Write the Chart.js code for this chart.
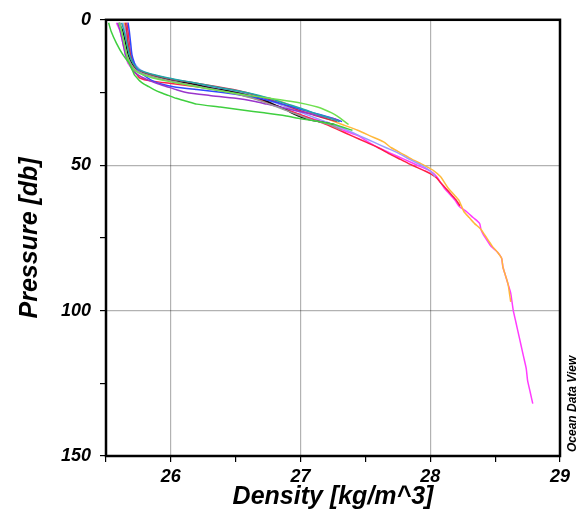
<!DOCTYPE html>
<html>
<head>
<meta charset="utf-8">
<script src="https://cdn.jsdelivr.net/npm/chart.js@4.4.1/dist/chart.umd.min.js"></script>
<style>
  html, body { margin: 0; padding: 0; background: #fff; }
  #wrap { width: 580px; height: 520px; }
</style>
</head>
<body>
<div id="wrap"><canvas id="profileChart"></canvas></div>
<script>
// ==============================
// Data: pressure levels [db] and density profiles [kg/m^3]
// ==============================

const pressure = [1, 4, 8, 12, 15, 17, 18, 19, 20, 21, 22, 23, 24, 25, 26, 27, 28, 29, 30, 31,
    32, 33, 34, 35, 36, 38, 40, 42, 44, 46, 48, 50, 52, 54, 56, 58, 60, 62, 64, 66,
    68, 70, 72, 74, 76, 78, 80, 82, 85, 88, 91, 94, 97, 100, 104, 108, 112, 116, 120, 124, 128, 132];

const blackProfile = [25.60, 25.63, 25.65, 25.67, 25.70, 25.74, 25.78, 25.84, 25.93, 26.03, 26.16, 26.26,
    26.38, 26.50, 26.60, 26.68, 26.74, 26.79, 26.84, 26.89, 26.93, 26.98, 27.04, 27.14, 27.26];

const redProfile = [25.66, 25.67, 25.68, 25.69, 25.70, 25.71, 25.72, 25.74, 25.76, 25.84, 26.02, 26.20,
    26.34, 26.46, 26.56, 26.64, 26.72, 26.78, 26.84, 26.90, 26.96, 27.02, 27.08, 27.14, 27.20, 27.30,
    27.40, 27.50, 27.60, 27.68, 27.77, 27.86, 27.96, 28.04, 28.08, 28.12, 28.16, 28.20, 28.23];

const magentaProfile = [25.58, 25.61, 25.63, 25.65, 25.67, 25.71, 25.75, 25.84, 25.96, 26.08, 26.20, 26.30,
    26.40, 26.50, 26.58, 26.66, 26.72, 26.78, 26.84, 26.90, 26.96, 27.02, 27.09, 27.18, 27.24, 27.33,
    27.45, 27.52, 27.60, 27.70, 27.80, 27.90, 28.00, 28.05, 28.08, 28.11, 28.15, 28.19, 28.22, 28.28,
    28.33, 28.38, 28.39, 28.41, 28.44, 28.47, 28.52, 28.55, 28.56, 28.58, 28.60, 28.62, 28.63, 28.64,
    28.66, 28.68, 28.70, 28.72, 28.74, 28.75, 28.77, 28.79];

const orangeProfile = [25.64, 25.65, 25.66, 25.68, 25.70, 25.73, 25.76, 25.82, 25.90, 26.00, 26.14, 26.30,
    26.44, 26.56, 26.66, 26.76, 26.84, 26.90, 26.96, 27.02, 27.08, 27.14, 27.20, 27.26, 27.32, 27.44,
    27.54, 27.64, 27.70, 27.78, 27.86, 27.95, 28.03, 28.08, 28.11, 28.14, 28.18, 28.22, 28.24, 28.26,
    28.30, 28.34, 28.39, 28.42, 28.45, 28.48, 28.52, 28.55, 28.56, 28.58, 28.60, 28.61, 28.62];

const periwinkleProfile = [25.63, 25.65, 25.67, 25.69, 25.72, 25.76, 25.80, 25.86, 25.95, 26.06, 26.18, 26.30,
    26.42, 26.54, 26.62, 26.70, 26.77, 26.83, 26.89, 26.95, 27.01, 27.07, 27.13, 27.19, 27.25, 27.36,
    27.46, 27.56, 27.66, 27.76, 27.84, 27.93, 28.00, 28.04];

const greenLowProfile = [25.52, 25.54, 25.58, 25.63, 25.68, 25.70, 25.71, 25.72, 25.74, 25.76, 25.79, 25.83,
    25.87, 25.92, 25.98, 26.04, 26.12, 26.20, 26.38, 26.55, 26.72, 26.88, 27.00, 27.14, 27.26, 27.40];

const greenHighProfile = [25.60, 25.62, 25.64, 25.66, 25.68, 25.71, 25.74, 25.79, 25.86, 25.96, 26.08, 26.20,
    26.32, 26.46, 26.60, 26.76, 26.92, 27.04, 27.13, 27.19, 27.24, 27.28, 27.31, 27.34, 27.37];

const blueProfile = [25.67, 25.68, 25.69, 25.70, 25.72, 25.74, 25.76, 25.79, 25.82, 25.86, 25.92, 26.02,
    26.20, 26.40, 26.56, 26.68, 26.78, 26.86, 26.94, 27.02, 27.10, 27.18, 27.26, 27.32];

const purpleProfile = [25.59, 25.61, 25.63, 25.65, 25.68, 25.70, 25.72, 25.75, 25.79, 25.84, 25.90, 25.97,
    26.04, 26.12, 26.30, 26.50, 26.64, 26.74, 26.84, 26.94, 27.04, 27.14, 27.26, 27.30];

const tealProfile = [25.62, 25.64, 25.66, 25.68, 25.71, 25.75, 25.80, 25.88, 25.98, 26.10, 26.22, 26.34,
    26.46, 26.58, 26.68, 26.76, 26.83, 26.90, 26.97, 27.04, 27.10, 27.17, 27.24, 27.30];

const grayProfile = [25.61, 25.62, 25.64, 25.66, 25.69, 25.72, 25.76, 25.82, 25.90, 26.00, 26.10, 26.22,
    26.34, 26.45, 26.55, 26.63, 26.70, 26.76, 26.82, 26.88, 26.94, 27.00, 27.06, 27.14, 27.22, 27.32];

const crimsonProfile = [25.65, 25.66, 25.67, 25.69, 25.71, 25.74, 25.79, 25.86, 25.96, 26.08, 26.22, 26.36,
    26.48, 26.58, 26.66, 26.73, 26.80, 26.86, 26.92, 26.98, 27.05, 27.12, 27.20, 27.28];

const densityTicks = [26, 27, 28, 29];
const pressureTicks = [0, 50, 100, 150];

// ==============================
// Build datasets
// ==============================

const profiles = [
    { values: greenLowProfile, color: "#3fcf3f" },
    { values: greenHighProfile, color: "#6fe04f" },
    { values: grayProfile, color: "#9a9a9a" },
    { values: tealProfile, color: "#1fa8a8" },
    { values: purpleProfile, color: "#9a35cc" },
    { values: blueProfile, color: "#3048ff" },
    { values: crimsonProfile, color: "#c8304f" },
    { values: blackProfile, color: "#111111" },
    { values: periwinkleProfile, color: "#9a9cff" },
    { values: orangeProfile, color: "#ffb83a" },
    { values: redProfile, color: "#ff1f45" },
    { values: magentaProfile, color: "#ff3cff" }
];

const datasets = profiles.map(p => ({
    data: p.values.map((d, i) => ({ x: d, y: pressure[i] })),
    borderColor: p.color,
    borderWidth: 1.5,
    pointRadius: 0,
    showLine: true,
    tension: 0.2,
    fill: false
}));

const fontFamily = "'Liberation Sans', Arial, sans-serif";

// frame + "Ocean Data View" tag
const framePlugin = {
    id: "frame",
    afterDatasetsDraw(chart) {
        const { ctx, chartArea } = chart;
        ctx.save();
        ctx.strokeStyle = "#000";
        ctx.lineWidth = 2.5;
        ctx.strokeRect(chartArea.left, chartArea.top,
            chartArea.right - chartArea.left, chartArea.bottom - chartArea.top);
        ctx.translate(chartArea.right + 13, chartArea.bottom - 4);
        ctx.rotate(-Math.PI / 2);
        ctx.font = "italic bold 12px " + fontFamily;
        ctx.fillStyle = "#000";
        ctx.textAlign = "left";
        ctx.textBaseline = "middle";
        ctx.fillText("Ocean Data View", 0, 0);
        ctx.restore();
    }
};

new Chart(document.getElementById("profileChart"), {
    type: "scatter",
    data: { datasets },
    options: {
        responsive: true,
        maintainAspectRatio: false,
        animation: false,
        layout: { padding: { left: 0, right: 20, top: 18, bottom: 0 } },
        plugins: {
            legend: { display: false },
            tooltip: { enabled: false }
        },
        scales: {
            x: {
                type: "linear",
                min: 25.5,
                max: 29,
                border: { display: false },
                grid: {
                    color: c => (densityTicks.includes(c.tick.value) && c.tick.value !== 29) ? "rgba(0,0,0,0.3)" : "rgba(0,0,0,0)",
                    tickColor: "#000",
                    tickLength: 6,
                    lineWidth: 1.2
                },
                ticks: {
                    stepSize: 0.5,
                    autoSkip: false,
                    maxRotation: 0,
                    padding: 4,
                    color: "#000",
                    font: { family: fontFamily, size: 18, style: "italic", weight: "bold" },
                    callback: v => densityTicks.includes(v) ? String(v) : ""
                },
                title: {
                    display: true,
                    text: "Density [kg/m^3]",
                    color: "#000",
                    font: { family: fontFamily, size: 25, style: "italic", weight: "bold" },
                    padding: { top: 0, bottom: 8 }
                },
                afterFit: s => { s.height = 64; }
            },
            y: {
                type: "linear",
                reverse: true,
                min: 0,
                max: 150,
                border: { display: false },
                grid: {
                    color: c => (c.tick.value === 50 || c.tick.value === 100) ? "rgba(0,0,0,0.3)" : "rgba(0,0,0,0)",
                    tickColor: "#000",
                    tickLength: 6,
                    lineWidth: 1.2
                },
                ticks: {
                    stepSize: 25,
                    autoSkip: false,
                    padding: 9,
                    color: "#000",
                    font: { family: fontFamily, size: 18, style: "italic", weight: "bold" },
                    callback: v => pressureTicks.includes(v) ? String(v) : ""
                },
                title: {
                    display: true,
                    text: "Pressure [db]",
                    color: "#000",
                    font: { family: fontFamily, size: 25, style: "italic", weight: "bold" },
                    padding: { top: 15, bottom: 0 }
                },
                afterFit: s => { s.width = 106; }
            }
        }
    },
    plugins: [framePlugin]
});
</script>
</body>
</html>
